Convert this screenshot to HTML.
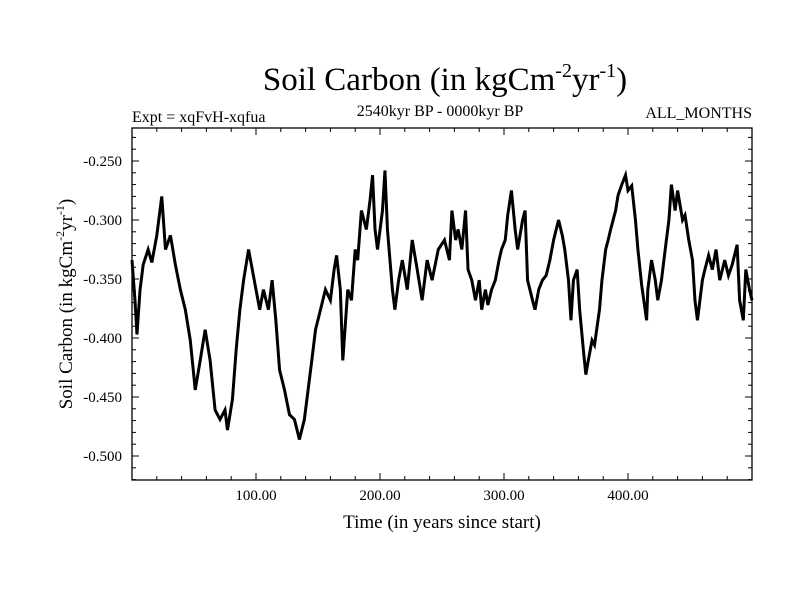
<!DOCTYPE html>
<html><head><meta charset="utf-8"><style>
body{margin:0;background:#fff}
svg{display:block;font-family:"Liberation Serif",serif}
</style></head><body>
<svg id="chart" width="800" height="600">
<text x="445" y="90" font-size="33" text-anchor="middle">Soil Carbon (in kgCm<tspan font-size="20" dy="-13">-2</tspan><tspan dy="13">yr</tspan><tspan font-size="20" dy="-13">-1</tspan><tspan dy="13">)</tspan></text>
<text x="132" y="122" font-size="16">Expt = xqFvH-xqfua</text>
<text x="440" y="116" font-size="16" text-anchor="middle">2540kyr BP - 0000kyr BP</text>
<text x="752" y="118" font-size="16" text-anchor="end">ALL_MONTHS</text>
<text transform="translate(72,304) rotate(-90)" font-size="19" text-anchor="middle">Soil Carbon (in kgCm<tspan font-size="12" dy="-8">-2</tspan><tspan dy="8">yr</tspan><tspan font-size="12" dy="-8">-1</tspan><tspan dy="8">)</tspan></text>
<text x="442" y="528" font-size="19" text-anchor="middle">Time (in years since start)</text>
<g id="axes"></g>
<g id="series"></g>
<rect x="132" y="128" width="620" height="352" fill="none" stroke="#000" stroke-width="1.3"/>
</svg>
<script>
const years=[0,2.4,4,6.5,9,13,16,20,24,27,31,35,39,43,47,51,55,59,63,67,71,75,77,81,84,87,90,94,97,100,103,106,110,113,116,119,123,127,131,135,139,142,145,148,152,156,160,163,165,168,170,174,177,180,182,185,189,192,194,196,198,202,204,206,210,212,215,218,222,226,230,234,238,242,247,252,256,258,261,263,266,269,271,274,277,280,282,285,287,290,293,296,298,301,303,306,309,311,315,317,319,323,325,328,331,334,337,340,344,347,349,352,354,356,359,361,364,366,368,371,373,377,379,382,384,386,390,392,395,398,400,403,406,408,411,415,416,419,422,424,427,430,433,435,438,440,444,446,449,452,454,456,460,462,465,468,471,474,478,481,484,488,490,493,495,498,500];
const values=[-0.334,-0.368,-0.397,-0.359,-0.338,-0.325,-0.336,-0.313,-0.280,-0.325,-0.313,-0.338,-0.359,-0.376,-0.402,-0.444,-0.419,-0.393,-0.419,-0.461,-0.469,-0.461,-0.478,-0.452,-0.410,-0.376,-0.351,-0.325,-0.342,-0.359,-0.376,-0.359,-0.376,-0.351,-0.385,-0.427,-0.444,-0.465,-0.469,-0.486,-0.469,-0.444,-0.419,-0.393,-0.376,-0.359,-0.368,-0.342,-0.330,-0.359,-0.419,-0.359,-0.368,-0.325,-0.334,-0.292,-0.308,-0.283,-0.262,-0.308,-0.325,-0.292,-0.258,-0.308,-0.359,-0.376,-0.351,-0.334,-0.359,-0.317,-0.342,-0.368,-0.334,-0.351,-0.325,-0.317,-0.334,-0.292,-0.317,-0.308,-0.325,-0.292,-0.342,-0.351,-0.368,-0.351,-0.376,-0.359,-0.372,-0.359,-0.351,-0.334,-0.325,-0.317,-0.296,-0.275,-0.308,-0.325,-0.300,-0.292,-0.351,-0.368,-0.376,-0.359,-0.351,-0.347,-0.334,-0.317,-0.300,-0.313,-0.325,-0.351,-0.385,-0.351,-0.342,-0.376,-0.410,-0.431,-0.419,-0.402,-0.406,-0.376,-0.351,-0.325,-0.317,-0.308,-0.292,-0.279,-0.270,-0.262,-0.275,-0.271,-0.300,-0.325,-0.355,-0.385,-0.359,-0.334,-0.351,-0.368,-0.351,-0.325,-0.300,-0.270,-0.292,-0.275,-0.300,-0.296,-0.317,-0.334,-0.368,-0.385,-0.351,-0.342,-0.330,-0.342,-0.325,-0.351,-0.334,-0.347,-0.338,-0.321,-0.368,-0.385,-0.342,-0.359,-0.368];
const yTicks=[-0.25,-0.30,-0.35,-0.40,-0.45,-0.50];
const yTickLabels=["-0.250","-0.300","-0.350","-0.400","-0.450","-0.500"];
const xTicks=[100,200,300,400];
const xTickLabels=["100.00","200.00","300.00","400.00"];
const NS="http://www.w3.org/2000/svg";
const X=v=>132+v*1.24;
const Y=v=>161-(v+0.25)*1180;
const ax=document.getElementById('axes');
function line(x1,y1,x2,y2,name){const l=document.createElementNS(NS,'line');l.setAttribute('x1',x1);l.setAttribute('y1',y1);l.setAttribute('x2',x2);l.setAttribute('y2',y2);l.setAttribute('stroke','#000');l.setAttribute('stroke-width','1');


ax.appendChild(l);}
function text(x,y,s,anchor,name){const t=document.createElementNS(NS,'text');t.setAttribute('x',x);t.setAttribute('y',y);t.setAttribute('font-size','15');t.setAttribute('text-anchor',anchor);t.textContent=s;


ax.appendChild(t);}
for(let k=-22;k>=-52;k--){const v=k/100;const y=Y(v);if(y<128||y>480)continue;const major=(k%5===0);const len=major?7:4;line(132,y,132+len,y,'y-tick');line(752,y,752-len,y,'y-tick-right');}
yTicks.forEach((v,i)=>text(122,Y(v)+5,yTickLabels[i],'end','y-tick-label'));
for(let v=20;v<500;v+=20){const major=(v%100===0);const len=major?7:4;line(X(v),480,X(v),480-len,'x-tick');line(X(v),128,X(v),128+len,'x-tick-top');}
xTicks.forEach((v,i)=>text(X(v),500,xTickLabels[i],'middle','x-tick-label'));
const p=document.createElementNS(NS,'polyline');
p.setAttribute('points',years.map((yr,i)=>X(yr)+','+Y(values[i])).join(' '));
p.setAttribute('fill','none');p.setAttribute('stroke','#000');p.setAttribute('stroke-width','3');p.setAttribute('stroke-linejoin','miter');


document.getElementById('series').appendChild(p);
</script>
</body></html>
